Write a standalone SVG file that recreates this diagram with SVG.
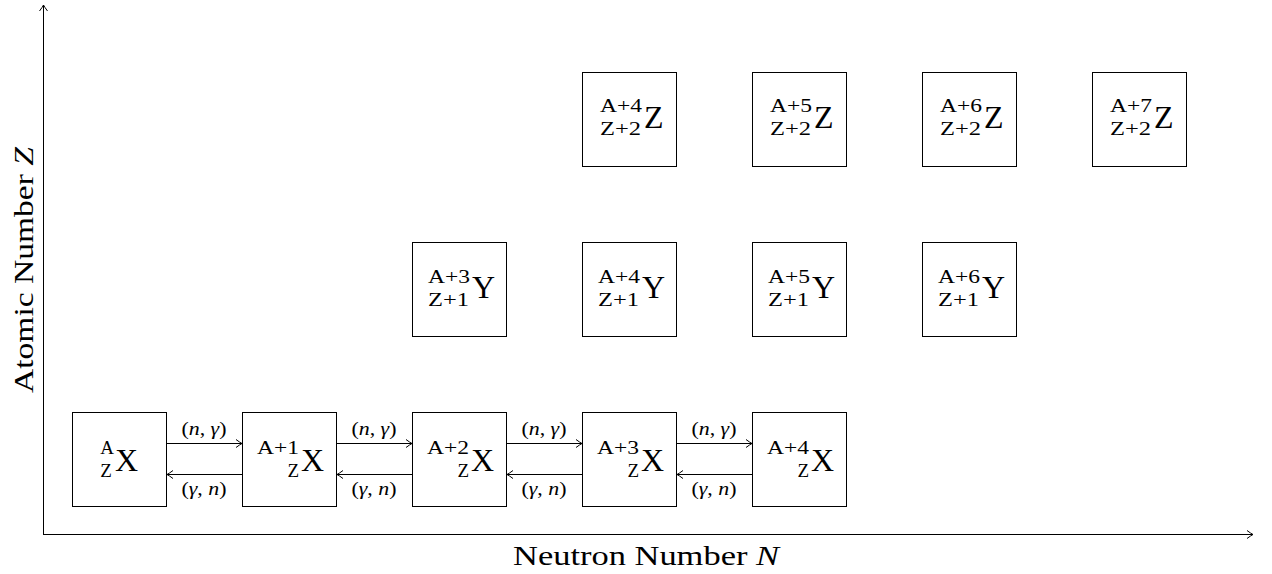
<svg xmlns="http://www.w3.org/2000/svg" width="1272" height="574" viewBox="0 0 1272 574">
<style>
.box{fill:#fff;stroke:#000;stroke-width:1}
.ln{stroke:#000;stroke-width:1;fill:none}
.t{font-family:"Liberation Serif","Times New Roman",serif;fill:#000}
.main{font-size:32px}
.sc{font-size:19px}
.lab{font-size:18px}
.ax{font-size:27px}
.it{font-style:italic}
</style>
<defs>
<marker id="ah" markerWidth="10" markerHeight="10" refX="0" refY="0" viewBox="-7 -5 8 10" markerUnits="userSpaceOnUse" orient="auto">
<path d="M-6,-4 Q-2,-1 0,0 Q-2,1 -6,4" fill="none" stroke="#000" stroke-width="1"/>
</marker>
</defs>
<rect width="1272" height="574" fill="#fff"/>
<g id="axes">
<line class="ln" x1="43.5" y1="535" x2="43.5" y2="5" marker-end="url(#ah)"/>
<line class="ln" x1="43" y1="534.5" x2="1253" y2="534.5" marker-end="url(#ah)"/>
<text class="t ax" x="646" y="565" text-anchor="middle" textLength="266" lengthAdjust="spacingAndGlyphs">Neutron Number <tspan class="it">N</tspan></text>
<text class="t ax" transform="translate(33,270) rotate(-90)" x="0" y="0" text-anchor="middle" textLength="246" lengthAdjust="spacingAndGlyphs">Atomic Number <tspan class="it">Z</tspan></text>
</g>
<g id="connectors">
<line class="ln" x1="166.5" y1="443.5" x2="242" y2="443.5" marker-end="url(#ah)"/>
<line class="ln" x1="242.5" y1="474.5" x2="167" y2="474.5" marker-end="url(#ah)"/>
<line class="ln" x1="336.5" y1="443.5" x2="412" y2="443.5" marker-end="url(#ah)"/>
<line class="ln" x1="412.5" y1="474.5" x2="337" y2="474.5" marker-end="url(#ah)"/>
<line class="ln" x1="506.5" y1="443.5" x2="582" y2="443.5" marker-end="url(#ah)"/>
<line class="ln" x1="582.5" y1="474.5" x2="507" y2="474.5" marker-end="url(#ah)"/>
<line class="ln" x1="676.5" y1="443.5" x2="752" y2="443.5" marker-end="url(#ah)"/>
<line class="ln" x1="752.5" y1="474.5" x2="677" y2="474.5" marker-end="url(#ah)"/>
<g class="t lab" text-anchor="middle">
<text x="204" y="435" textLength="45" lengthAdjust="spacingAndGlyphs">(<tspan class="it">n</tspan>, <tspan class="it">γ</tspan>)</text>
<text x="204" y="495" textLength="45" lengthAdjust="spacingAndGlyphs">(<tspan class="it">γ</tspan>, <tspan class="it">n</tspan>)</text>
<text x="374" y="435" textLength="45" lengthAdjust="spacingAndGlyphs">(<tspan class="it">n</tspan>, <tspan class="it">γ</tspan>)</text>
<text x="374" y="495" textLength="45" lengthAdjust="spacingAndGlyphs">(<tspan class="it">γ</tspan>, <tspan class="it">n</tspan>)</text>
<text x="544" y="435" textLength="45" lengthAdjust="spacingAndGlyphs">(<tspan class="it">n</tspan>, <tspan class="it">γ</tspan>)</text>
<text x="544" y="495" textLength="45" lengthAdjust="spacingAndGlyphs">(<tspan class="it">γ</tspan>, <tspan class="it">n</tspan>)</text>
<text x="714" y="435" textLength="45" lengthAdjust="spacingAndGlyphs">(<tspan class="it">n</tspan>, <tspan class="it">γ</tspan>)</text>
<text x="714" y="495" textLength="45" lengthAdjust="spacingAndGlyphs">(<tspan class="it">γ</tspan>, <tspan class="it">n</tspan>)</text>
</g>
</g>
<!-- X row -->
<g id="X0"><rect class="box" x="72.5" y="412.5" width="94" height="94"/>
<text class="t sc" x="107" y="454" text-anchor="middle">A</text>
<text class="t sc" x="106" y="477" text-anchor="middle">Z</text>
<text class="t main" x="115" y="471">X</text></g>
<g id="X1"><rect class="box" x="242.5" y="412.5" width="94" height="94"/>
<text class="t sc" x="299" y="454" text-anchor="end" textLength="42" lengthAdjust="spacingAndGlyphs">A+1</text>
<text class="t sc" x="299" y="477" text-anchor="end">Z</text>
<text class="t main" x="301" y="471">X</text></g>
<g id="X2"><rect class="box" x="412.5" y="412.5" width="94" height="94"/>
<text class="t sc" x="469" y="454" text-anchor="end" textLength="42" lengthAdjust="spacingAndGlyphs">A+2</text>
<text class="t sc" x="469" y="477" text-anchor="end">Z</text>
<text class="t main" x="471" y="471">X</text></g>
<g id="X3"><rect class="box" x="582.5" y="412.5" width="94" height="94"/>
<text class="t sc" x="639" y="454" text-anchor="end" textLength="42" lengthAdjust="spacingAndGlyphs">A+3</text>
<text class="t sc" x="639" y="477" text-anchor="end">Z</text>
<text class="t main" x="641" y="471">X</text></g>
<g id="X4"><rect class="box" x="752.5" y="412.5" width="94" height="94"/>
<text class="t sc" x="809" y="454" text-anchor="end" textLength="42" lengthAdjust="spacingAndGlyphs">A+4</text>
<text class="t sc" x="809" y="477" text-anchor="end">Z</text>
<text class="t main" x="811" y="471">X</text></g>
<!-- Y row -->
<g id="Y3"><rect class="box" x="412.5" y="242.5" width="94" height="94"/>
<text class="t sc" x="470" y="283" text-anchor="end" textLength="42" lengthAdjust="spacingAndGlyphs">A+3</text>
<text class="t sc" x="469" y="306" text-anchor="end" textLength="41" lengthAdjust="spacingAndGlyphs">Z+1</text>
<text class="t main" x="472" y="298">Y</text></g>
<g id="Y4"><rect class="box" x="582.5" y="242.5" width="94" height="94"/>
<text class="t sc" x="640" y="283" text-anchor="end" textLength="42" lengthAdjust="spacingAndGlyphs">A+4</text>
<text class="t sc" x="639" y="306" text-anchor="end" textLength="41" lengthAdjust="spacingAndGlyphs">Z+1</text>
<text class="t main" x="642" y="298">Y</text></g>
<g id="Y5"><rect class="box" x="752.5" y="242.5" width="94" height="94"/>
<text class="t sc" x="810" y="283" text-anchor="end" textLength="42" lengthAdjust="spacingAndGlyphs">A+5</text>
<text class="t sc" x="809" y="306" text-anchor="end" textLength="41" lengthAdjust="spacingAndGlyphs">Z+1</text>
<text class="t main" x="812" y="298">Y</text></g>
<g id="Y6"><rect class="box" x="922.5" y="242.5" width="94" height="94"/>
<text class="t sc" x="980" y="283" text-anchor="end" textLength="42" lengthAdjust="spacingAndGlyphs">A+6</text>
<text class="t sc" x="979" y="306" text-anchor="end" textLength="41" lengthAdjust="spacingAndGlyphs">Z+1</text>
<text class="t main" x="982" y="298">Y</text></g>
<!-- Z row -->
<g id="Z4"><rect class="box" x="582.5" y="72.5" width="94" height="94"/>
<text class="t sc" x="642" y="112" text-anchor="end" textLength="42" lengthAdjust="spacingAndGlyphs">A+4</text>
<text class="t sc" x="641" y="135" text-anchor="end" textLength="41" lengthAdjust="spacingAndGlyphs">Z+2</text>
<text class="t main" x="644" y="128">Z</text></g>
<g id="Z5"><rect class="box" x="752.5" y="72.5" width="94" height="94"/>
<text class="t sc" x="812" y="112" text-anchor="end" textLength="42" lengthAdjust="spacingAndGlyphs">A+5</text>
<text class="t sc" x="811" y="135" text-anchor="end" textLength="41" lengthAdjust="spacingAndGlyphs">Z+2</text>
<text class="t main" x="814" y="128">Z</text></g>
<g id="Z6"><rect class="box" x="922.5" y="72.5" width="94" height="94"/>
<text class="t sc" x="982" y="112" text-anchor="end" textLength="42" lengthAdjust="spacingAndGlyphs">A+6</text>
<text class="t sc" x="981" y="135" text-anchor="end" textLength="41" lengthAdjust="spacingAndGlyphs">Z+2</text>
<text class="t main" x="984" y="128">Z</text></g>
<g id="Z7"><rect class="box" x="1092.5" y="72.5" width="94" height="94"/>
<text class="t sc" x="1152" y="112" text-anchor="end" textLength="42" lengthAdjust="spacingAndGlyphs">A+7</text>
<text class="t sc" x="1151" y="135" text-anchor="end" textLength="41" lengthAdjust="spacingAndGlyphs">Z+2</text>
<text class="t main" x="1154" y="128">Z</text></g>
</svg>
